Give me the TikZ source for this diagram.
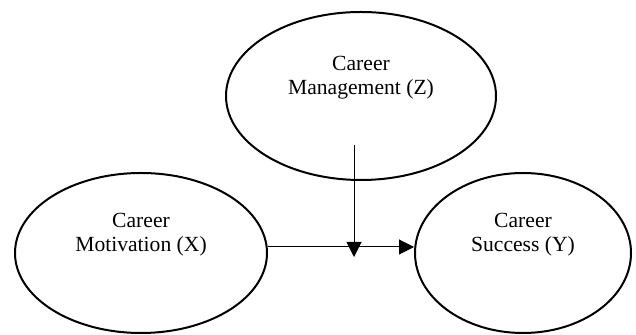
\documentclass[tikz,border=0pt]{standalone}
\usepackage{fontspec}
\setmainfont{Liberation Serif}
\usetikzlibrary{shapes.geometric,arrows.meta}
\begin{document}
\begin{tikzpicture}[x=0.5pt, y=-0.5pt,
    every node/.style = {font=\fontsize{10.8pt}{12pt}\selectfont, align=center},
    var/.style = {shape=ellipse, draw, line width=1pt, inner sep=0pt,
      text depth=21pt},
    link/.style = {line width=0.5pt, -{Triangle[length=7.5pt,width=7.5pt]}}]
    \useasboundingbox (0,0) rectangle (636,335);
    \node[var, minimum width=135pt, minimum height=84pt] (Z) at (361,96)
        {Career\\ Management (Z)};
    \node[var, minimum width=126pt, minimum height=80pt] (X) at (141,253)
        {Career\\ Motivation (X)};
    \node[var, minimum width=108pt, minimum height=80pt] (Y) at (523,253)
        {Career\\ Success (Y)};
    \coordinate (zs) at (354,145);
    \coordinate (zt) at (354,257);
    \draw[link] ([yshift=3pt]X.east) -- ([yshift=3pt]Y.west);
    \draw[link] (zs) -- (zt);
\end{tikzpicture}
\end{document}
